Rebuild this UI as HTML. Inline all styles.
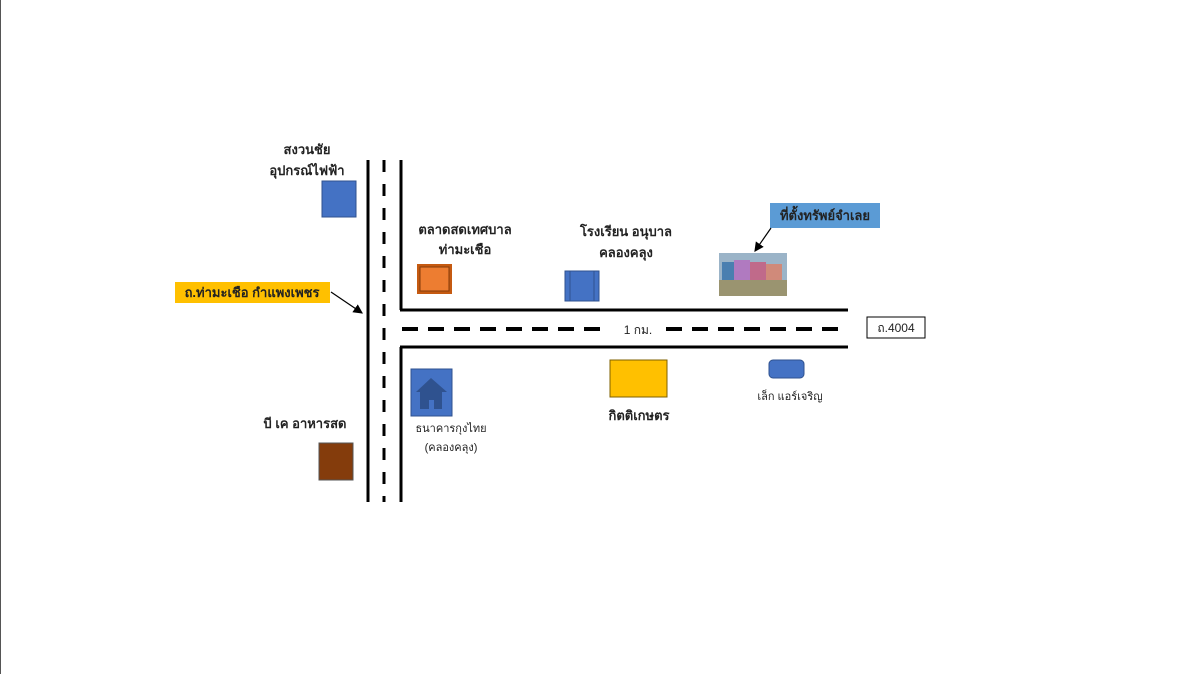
<!DOCTYPE html>
<html><head><meta charset="utf-8"><style>
html,body{margin:0;padding:0;background:#fff}
svg text{font-family:"Liberation Sans","DejaVu Sans",sans-serif;font-weight:bold;fill:#222}
</style></head><body>
<svg width="1200" height="674" viewBox="0 0 1200 674" xmlns="http://www.w3.org/2000/svg">
<rect x="0" y="0" width="1200" height="674" fill="#fff"/>
<line x1="0.5" y1="0" x2="0.5" y2="674" stroke="#555" stroke-width="1"/>
<defs><marker id="ah" markerWidth="8" markerHeight="8" refX="7" refY="4" orient="auto"><path d="M0,0 L8,4 L0,8 z" fill="#000"/></marker></defs>
<line x1="368" y1="160" x2="368" y2="502" stroke="#000" stroke-width="3"/>
<line x1="384" y1="160" x2="384" y2="502" stroke="#000" stroke-width="3" stroke-dasharray="12,12"/>
<line x1="401" y1="160" x2="401" y2="310" stroke="#000" stroke-width="3"/>
<line x1="400" y1="310" x2="848" y2="310" stroke="#000" stroke-width="3"/>
<line x1="401" y1="347" x2="401" y2="502" stroke="#000" stroke-width="3"/>
<line x1="400" y1="347" x2="848" y2="347" stroke="#000" stroke-width="3"/>
<line x1="402" y1="329" x2="610" y2="329" stroke="#000" stroke-width="4" stroke-dasharray="16,10"/>
<line x1="666" y1="329" x2="840" y2="329" stroke="#000" stroke-width="4" stroke-dasharray="16,10"/>
<text x="638" y="334" font-size="12" text-anchor="middle" style="font-weight:normal">1 กม.</text>
<rect x="322" y="181" width="34" height="36" fill="#4472C4" stroke="#2F528F"/>
<text x="307" y="154" font-size="13" text-anchor="middle">สงวนชัย</text>
<text x="307" y="175" font-size="13" text-anchor="middle">อุปกรณ์ไฟฟ้า</text>
<rect x="417" y="264" width="35" height="30" fill="#C55A11"/>
<rect x="420" y="267" width="29" height="24" fill="#ED7D31" stroke="#843C0C"/>
<text x="465" y="234" font-size="13" text-anchor="middle">ตลาดสดเทศบาล</text>
<text x="465" y="254" font-size="13" text-anchor="middle">ท่ามะเชือ</text>
<rect x="565" y="271" width="34" height="30" fill="#4472C4" stroke="#2F528F"/>
<line x1="570" y1="271" x2="570" y2="301" stroke="#2F528F"/><line x1="594" y1="271" x2="594" y2="301" stroke="#2F528F"/>
<text x="626" y="236" font-size="13" text-anchor="middle">โรงเรียน อนุบาล</text>
<text x="626" y="257" font-size="13" text-anchor="middle">คลองคลุง</text>
<rect x="719" y="253" width="68" height="43" fill="#9bb4c8"/>
<rect x="722" y="262" width="12" height="18" fill="#4a7fb0"/>
<rect x="734" y="260" width="16" height="20" fill="#b07ac0"/>
<rect x="750" y="262" width="16" height="18" fill="#c06a8a"/>
<rect x="766" y="264" width="16" height="16" fill="#d08a7a"/>
<rect x="719" y="280" width="68" height="16" fill="#9a9470"/>
<rect x="770" y="203" width="110" height="25" fill="#5B9BD5"/>
<text x="825" y="220" font-size="13" text-anchor="middle">ที่ตั้งทรัพย์จำเลย</text>
<line x1="771" y1="228" x2="755" y2="251" stroke="#000" stroke-width="1.2" marker-end="url(#ah)"/>
<rect x="175" y="282" width="155" height="21" fill="#FFC000"/>
<text x="252" y="297" font-size="13" text-anchor="middle">ถ.ท่ามะเชือ กำแพงเพชร</text>
<line x1="331" y1="292" x2="362" y2="313" stroke="#000" stroke-width="1.2" marker-end="url(#ah)"/>
<rect x="867" y="317" width="58" height="21" fill="#fff" stroke="#000"/>
<text x="896" y="332" font-size="12" text-anchor="middle" style="font-weight:normal">ถ.4004</text>
<rect x="411" y="369" width="41" height="47" fill="#4472C4" stroke="#2F528F"/>
<path d="M416,392 L431,378 L447,392 Z" fill="#2F528F"/>
<rect x="420" y="391" width="22" height="18" fill="#2F528F"/>
<rect x="429" y="400" width="5" height="9" fill="#4472C4"/>
<text x="451" y="432" font-size="11" text-anchor="middle" style="font-weight:normal">ธนาคารกุงไทย</text>
<text x="451" y="451" font-size="11" text-anchor="middle" style="font-weight:normal">(คลองคลุง)</text>
<rect x="610" y="360" width="57" height="37" fill="#FFC000" stroke="#7F6000"/>
<text x="639" y="420" font-size="13" text-anchor="middle">กิตติเกษตร</text>
<rect x="769" y="360" width="35" height="18" rx="4" fill="#4472C4" stroke="#2F528F"/>
<text x="790" y="400" font-size="11" text-anchor="middle" style="font-weight:normal">เล็ก แอร์เจริญ</text>
<rect x="319" y="443" width="34" height="37" fill="#843C0C" stroke="#555"/>
<text x="305" y="428" font-size="13" text-anchor="middle">บี เค อาหารสด</text>
</svg>
</body></html>
